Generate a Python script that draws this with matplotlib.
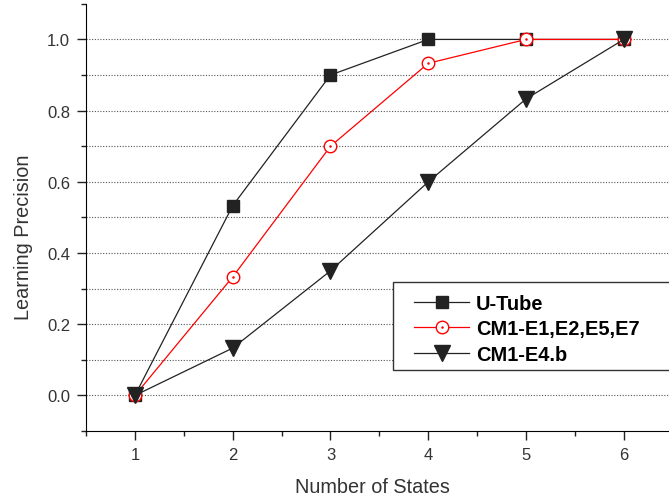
import matplotlib

matplotlib.use("Agg")
import matplotlib.pyplot as plt
from matplotlib.patches import Rectangle
from matplotlib.ticker import MultipleLocator

plt.rcParams["font.family"] = ["Liberation Sans", "DejaVu Sans"]

states = [1, 2, 3, 4, 5, 6]
utube = [0.0, 0.533, 0.9, 1.0, 1.0, 1.0]
cm1_e1 = [0.0, 0.333, 0.7, 0.933, 1.0, 1.0]
cm1_e4b = [0.0, 0.133, 0.35, 0.6, 0.833, 1.0]

fig = plt.figure(figsize=(6.69, 5.02), dpi=100)
ax = fig.add_axes([0.1286, 0.1394, 0.877, 0.851])

h1, = ax.plot(states, utube, color="#222222", lw=0.9, marker="s", ms=9,
              mfc="#222222", mec="#222222", zorder=3)
h2, = ax.plot(states, cm1_e1, color="red", lw=0.9, marker="o", ms=9,
              mfc="white", mec="red", zorder=4)
h2dot, = ax.plot(states, cm1_e1, ls="none", marker="o", ms=0.8,
                 mfc="red", mec="red", zorder=4)
h3, = ax.plot(states, cm1_e4b, color="#222222", lw=0.9, marker="v", ms=12,
              mfc="#222222", mec="#222222", zorder=5)

ax.set_xlim(0.5, 6.5)
ax.set_ylim(-0.1, 1.1)
ax.xaxis.set_major_locator(MultipleLocator(1))
ax.xaxis.set_minor_locator(MultipleLocator(0.5))
ax.yaxis.set_major_locator(MultipleLocator(0.2))
ax.yaxis.set_minor_locator(MultipleLocator(0.1))
ax.yaxis.set_major_formatter(plt.FuncFormatter(lambda v, p: f"{v:.1f}"))

for y in [i / 10 for i in range(0, 11)]:
    ax.axhline(y, color="#555555", lw=0.8, ls=(0, (1, 1.5)), zorder=1)

ax.spines["top"].set_visible(False)
ax.spines["right"].set_visible(False)
ax.tick_params(which="both", direction="out", width=1, colors="#222222",
               labelsize=12, labelcolor="#333333", pad=5)
ax.tick_params(which="major", length=6.5)
ax.tick_params(which="minor", length=3.5)

ax.set_xlabel("Number of States", fontsize=14.3, color="#333333", labelpad=11)
ax.xaxis.label.set_x(0.4875)
ax.set_ylabel("Learning Precision", fontsize=14.3, color="#333333", labelpad=10)
ax.yaxis.label.set_y(0.455)

# legend box runs off the right edge like in the original
box = Rectangle((393 / 669, 1 - 371 / 502), 300 / 669, 88 / 502,
                transform=fig.transFigure, facecolor="white",
                edgecolor="#333333", lw=1.0, zorder=6, clip_on=False)
ax.add_patch(box)
leg = ax.legend([h1, (h2, h2dot), h3], ["U-Tube", "CM1-E1,E2,E5,E7", "CM1-E4.b"],
                loc="lower left", bbox_to_anchor=(405 / 669, 1 - 374 / 502),
                bbox_transform=fig.transFigure, prop={"weight": "bold", "size": 14.4},
                frameon=False, handlelength=2.75, handletextpad=0.35,
                borderpad=0.45, labelspacing=0.33, borderaxespad=0)
leg.set_zorder(7)

fig.savefig("out.png", dpi=100)
